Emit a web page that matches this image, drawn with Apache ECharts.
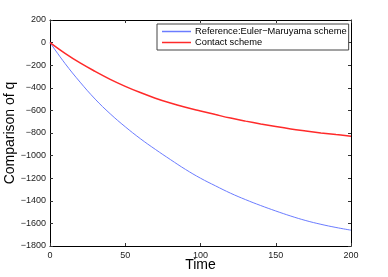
<!DOCTYPE html>
<html>
<head>
<meta charset="utf-8">
<script src="https://cdn.jsdelivr.net/npm/echarts@6/dist/echarts.min.js"></script>
<style>html,body{margin:0;padding:0;background:#fff}#c{width:388px;height:277px}</style>
</head>
<body>
<div id="c"></div>
<script>
var time = [0,10,20,30,40,50,60,70,80,90,100,110,120,130,140,150,160,170,180,190,200];
var eulerMaruyama = [0,-185,-350,-500,-630,-745,-850,-945,-1035,-1122,-1200,-1268,-1333,-1390,-1442,-1490,-1535,-1575,-1608,-1636,-1660];
var contactScheme = [0,-95,-180,-255,-325,-387,-442,-492,-535,-572,-605,-637,-668,-695,-720,-743,-764,-782,-799,-814,-828];
var seriesNames = ['Reference:Euler\u2212Maruyama scheme', 'Contact scheme'];

function pairs(xs, ys){ return xs.map(function(x,i){ return [x, ys[i]]; }); }
function fmt(v){ return String(v).replace('-', '\u2212'); }

var font = 'Liberation Sans, Arial, Helvetica, sans-serif';
var axisCommon = {
  axisLine: {show: true, onZero: false, lineStyle: {color: '#000', width: 1}},
  axisTick: {show: true, inside: true, length: 3, lineStyle: {color: '#333'}},
  splitLine: {show: false}
};
var chart = echarts.init(document.getElementById('c'), null, {renderer: 'canvas'});
chart.setOption({
  animation: false,
  backgroundColor: '#fff',
  grid: {left: 50, top: 20, right: 37, bottom: 31, containLabel: false, outerBoundsMode: 'none'},
  xAxis: [
    Object.assign({type: 'value', min: 0, max: 200, interval: 50, position: 'bottom',
      name: 'Time', nameLocation: 'middle', nameGap: 12, nameMoveOverlap: false,
      nameTextStyle: {fontFamily: font, fontSize: 14, color: '#000'},
      axisLabel: {fontFamily: font, fontSize: 9, color: '#222', margin: 5, formatter: fmt}}, axisCommon),
    Object.assign({type: 'value', min: 0, max: 200, interval: 50, position: 'top',
      axisLabel: {show: false}}, axisCommon)
  ],
  yAxis: [
    Object.assign({type: 'value', min: -1800, max: 200, interval: 200, position: 'left',
      name: 'Comparison of q', nameLocation: 'middle', nameGap: 33, nameMoveOverlap: false,
      nameTextStyle: {fontFamily: font, fontSize: 14, color: '#000'},
      axisLabel: {fontFamily: font, fontSize: 9, color: '#222', margin: 4, formatter: fmt}}, axisCommon),
    Object.assign({type: 'value', min: -1800, max: 200, interval: 200, position: 'right',
      axisLabel: {show: false}}, axisCommon)
  ],
  legend: {
    orient: 'vertical', left: 157, top: 24,
    padding: [3, 2, 3, 5],
    itemGap: 2, itemWidth: 29, itemHeight: 1.5,
    borderColor: '#444', borderWidth: 1, backgroundColor: '#fff',
    textStyle: {fontFamily: font, fontSize: 9.3, color: '#000', padding: [0, 0, 0, -1]},
    data: [
      {name: seriesNames[0], icon: 'rect', itemStyle: {color: '#6b7cff'}},
      {name: seriesNames[1], icon: 'rect', itemStyle: {color: '#ff2a2a'}}
    ]
  },
  series: [
    {name: seriesNames[0], type: 'line', data: pairs(time, eulerMaruyama), smooth: 0.4,
      showSymbol: false, lineStyle: {color: '#6b7cff', width: 1}, itemStyle: {color: '#6b7cff'}},
    {name: seriesNames[1], type: 'line', data: pairs(time, contactScheme), smooth: 0.4,
      showSymbol: false, lineStyle: {color: '#ff2a2a', width: 1.5}, itemStyle: {color: '#ff2a2a'}}
  ]
});
</script>
</body>
</html>
